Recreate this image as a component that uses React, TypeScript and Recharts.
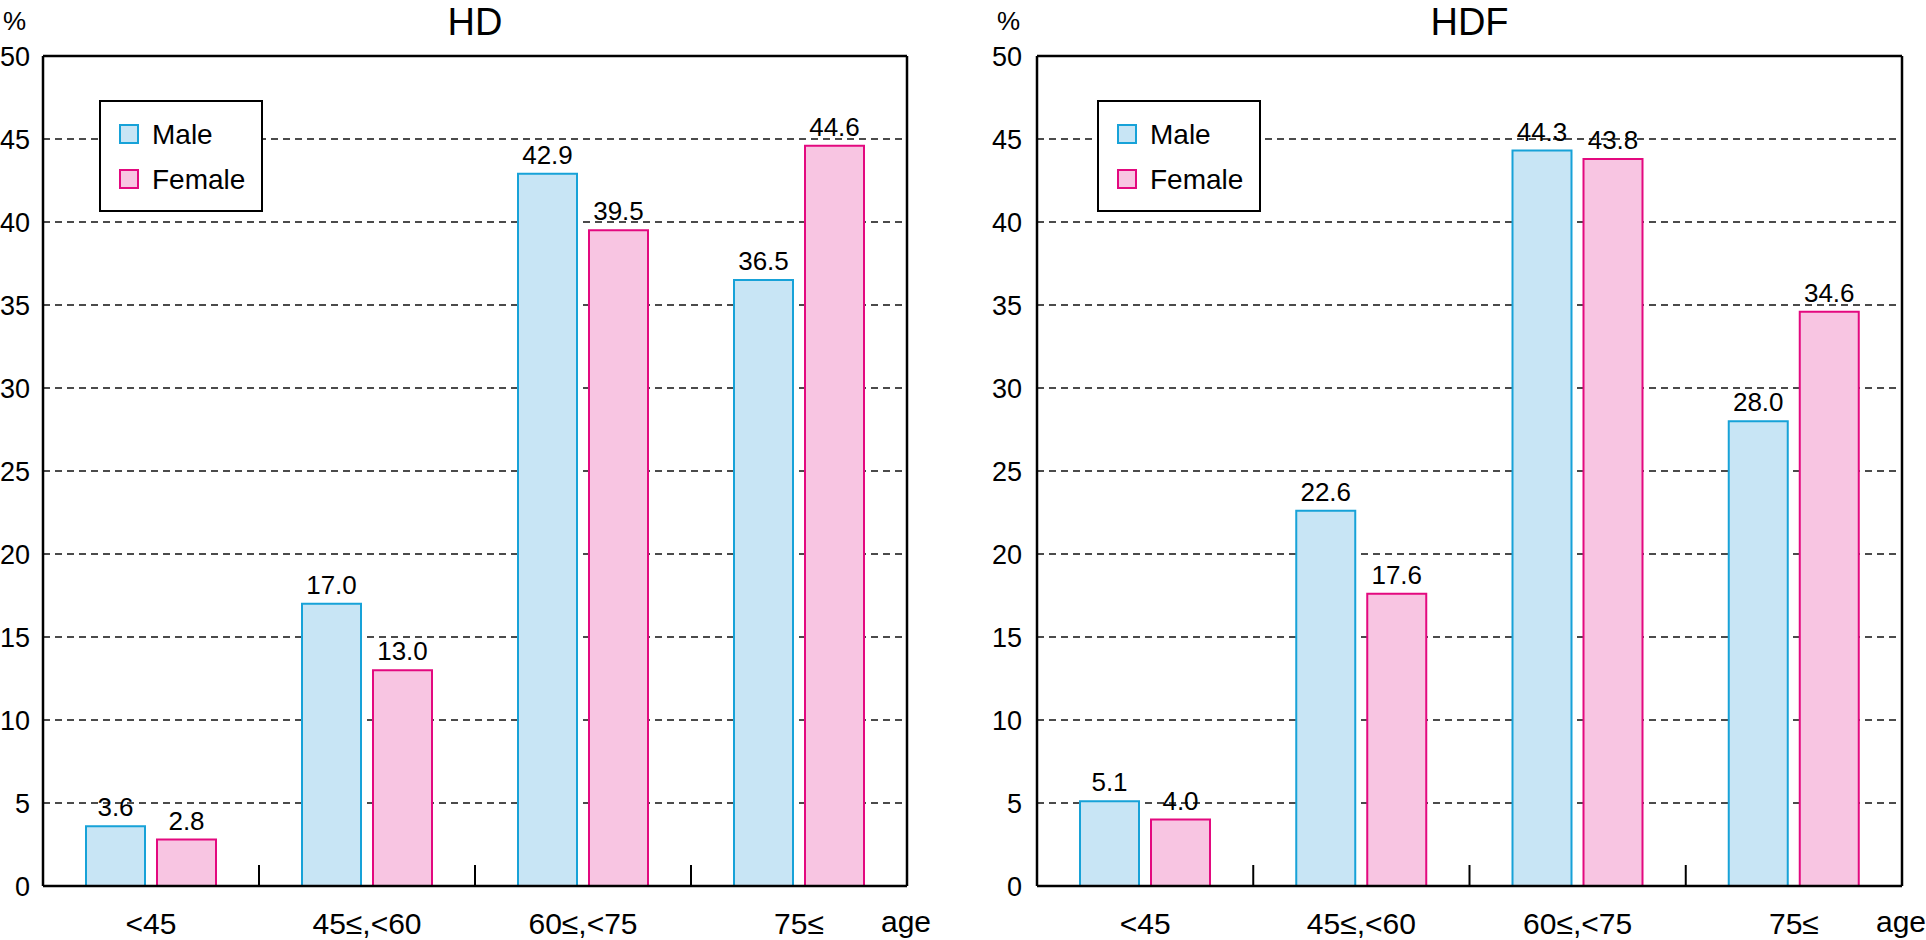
import React from "react";
import { BarChart, Bar, XAxis, YAxis, CartesianGrid, LabelList, Legend } from "recharts";

const categories = ["<45", "45≤,<60", "60≤,<75", "75≤"];
const hdMale = [3.6, 17.0, 42.9, 36.5];
const hdFemale = [2.8, 13.0, 39.5, 44.6];
const hdfMale = [5.1, 22.6, 44.3, 28.0];
const hdfFemale = [4.0, 17.6, 43.8, 34.6];
const yTicks = [0, 5, 10, 15, 20, 25, 30, 35, 40, 45, 50];

const FONT = '"Liberation Sans", Arial, Helvetica, sans-serif';
const MALE_FILL = "#c8e5f5";
const MALE_STROKE = "#17a2d8";
const FEMALE_FILL = "#f8c5e2";
const FEMALE_STROKE = "#e3097f";

const series = [
  { key: "male", name: "Male", fill: MALE_FILL, stroke: MALE_STROKE },
  { key: "female", name: "Female", fill: FEMALE_FILL, stroke: FEMALE_STROKE },
];

const CHART_W = 963;
const CHART_H = 940;

function LegendBox() {
  return (
    <div
      style={{
        boxSizing: "border-box",
        width: 164,
        height: 112,
        border: "2px solid #000",
        background: "#fff",
        position: "relative",
        fontFamily: FONT,
      }}
    >
      {series.map((s, i) => (
        <React.Fragment key={s.key}>
          <div
            style={{
              position: "absolute",
              boxSizing: "border-box",
              left: 18,
              top: 22 + i * 45,
              width: 20,
              height: 20,
              background: s.fill,
              border: `2px solid ${s.stroke}`,
            }}
          />
          <div
            style={{
              position: "absolute",
              left: 51,
              top: 19 + i * 45,
              fontSize: 28,
              lineHeight: "28px",
              color: "#000",
              whiteSpace: "nowrap",
            }}
          >
            {s.name}
          </div>
        </React.Fragment>
      ))}
    </div>
  );
}

function makeCatTick(band: number, last: number) {
  return (props: any) => {
    const { x, y, payload, index } = props;
    return (
      <g>
        {index > 0 && (
          <line x1={x - band / 2} x2={x - band / 2} y1={y} y2={y - 21} stroke="#000" strokeWidth={2} />
        )}
        <text x={x} y={y + 48} textAnchor="middle" fontSize={30} fill="#000" fontFamily={FONT}>
          {payload.value}
        </text>
        {index === last && (
          <text x={x + band / 2 - 1} y={y + 46} textAnchor="middle" fontSize={30} fill="#000" fontFamily={FONT}>
            age
          </text>
        )}
      </g>
    );
  };
}

function Panel({
  title,
  male,
  female,
  left,
  yWidth,
  rightMargin,
  tickMargin,
  legendLeft,
}: {
  title: string;
  male: number[];
  female: number[];
  left: number;
  yWidth: number;
  rightMargin: number;
  tickMargin: number;
  legendLeft: number;
}) {
  const data = categories.map((cat, i) => ({ cat, male: male[i], female: female[i] }));
  const plotW = CHART_W - yWidth - rightMargin - 1;
  const band = plotW / categories.length;
  const center = left + yWidth + plotW / 2;
  return (
    <>
      <div
        style={{
          position: "absolute",
          left: center - 150,
          top: 3,
          width: 300,
          textAlign: "center",
          fontSize: 38,
          lineHeight: "38px",
          fontFamily: FONT,
          color: "#000",
        }}
      >
        {title}
      </div>
      <div
        style={{
          position: "absolute",
          left: left + yWidth - 40,
          top: 8,
          fontSize: 26,
          lineHeight: "26px",
          fontFamily: FONT,
          color: "#000",
        }}
      >
        %
      </div>
      <div style={{ position: "absolute", left, top: 0 }}>
        <BarChart
          width={CHART_W}
          height={CHART_H}
          data={data}
          margin={{ top: 55, right: rightMargin, bottom: 0, left: 0 }}
          barSize={59}
          barGap={12}
        >
          <CartesianGrid
            vertical={false}
            stroke="#111"
            strokeWidth={1.5}
            strokeDasharray="7 5"
          />
          <XAxis
            dataKey="cat"
            height={54}
            interval={0}
            tickLine={false}
            tickSize={0}
            tickMargin={0}
            axisLine={{ stroke: "#000", strokeWidth: 2.5 }}
            tick={makeCatTick(band, categories.length - 1)}
          />
          <XAxis
            xAxisId="top"
            dataKey="cat"
            orientation="top"
            height={1}
            tick={false}
            tickLine={false}
            axisLine={{ stroke: "#000", strokeWidth: 2.5 }}
          />
          <YAxis
            width={yWidth}
            domain={[0, 50]}
            ticks={yTicks}
            interval={0}
            tickLine={false}
            tickMargin={tickMargin}
            axisLine={{ stroke: "#000", strokeWidth: 2.5 }}
            tick={{ fontSize: 27, fill: "#000", fontFamily: FONT }}
          />
          <YAxis
            yAxisId="right"
            orientation="right"
            width={1}
            domain={[0, 50]}
            tick={false}
            tickLine={false}
            axisLine={{ stroke: "#000", strokeWidth: 2.5 }}
          />
          <Legend
            layout="vertical"
            align="center"
            verticalAlign="middle"
            content={() => <LegendBox />}
            wrapperStyle={{ left: legendLeft, top: 100, width: 164, height: 112 }}
          />
          {series.map((s) => (
            <Bar
              key={s.key}
              dataKey={s.key}
              name={s.name}
              fill={s.fill}
              stroke={s.stroke}
              strokeWidth={2}
              isAnimationActive={false}
            >
              <LabelList
                dataKey={s.key}
                position="top"
                offset={10}
                fill="#000"
                fontSize={26}
                fontFamily={FONT}
                formatter={(v: any) => Number(v).toFixed(1)}
              />
            </Bar>
          ))}
        </BarChart>
      </div>
    </>
  );
}

export default function App() {
  return (
    <div
      style={{
        position: "absolute",
        left: 0,
        top: 0,
        width: 1926,
        height: 940,
        background: "#fff",
        overflow: "hidden",
      }}
    >
      <Panel
        title="HD"
        male={hdMale}
        female={hdFemale}
        left={0}
        yWidth={43}
        rightMargin={55}
        tickMargin={7}
        legendLeft={99}
      />
      <Panel
        title="HDF"
        male={hdfMale}
        female={hdfFemale}
        left={963}
        yWidth={74}
        rightMargin={23}
        tickMargin={9}
        legendLeft={134}
      />
    </div>
  );
}
